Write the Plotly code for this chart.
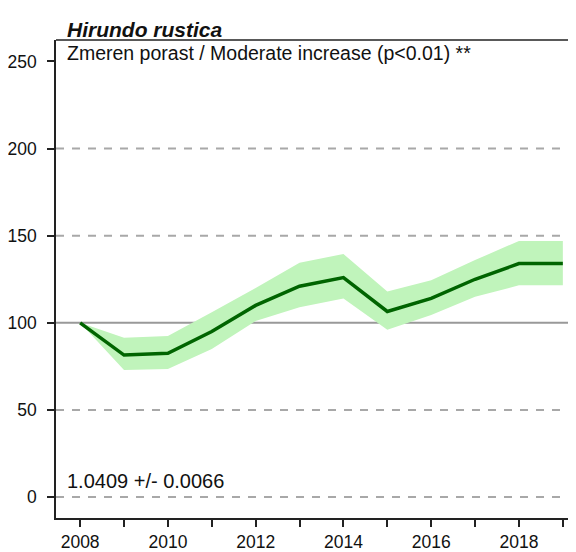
import plotly.graph_objects as go

years = [2008, 2009, 2010, 2011, 2012, 2013, 2014, 2015, 2016, 2017, 2018, 2019]
index = [100, 81.5, 82.5, 95, 110, 121, 126, 106.5, 114, 125, 134, 134]
upper = [100, 91.5, 92.5, 106, 120, 134.5, 139.5, 118, 124.5, 136, 147, 147]
lower = [100, 73, 73.5, 85, 101, 109, 114, 96, 104.5, 115, 121.5, 121.5]

species = "Hirundo rustica"
trend_text = "Zmeren porast / Moderate increase (p<0.01) **"
slope_text = "1.0409 +/- 0.0066"
x_tickvals = [2008, 2010, 2012, 2014, 2016, 2018]
y_tickvals = [0, 50, 100, 150, 200, 250]
dashed_levels = [0, 50, 150, 200]
baseline_level = 100

FONT = "Arial, 'Liberation Sans', sans-serif"
BAND = "#c0f4bb"

fig = go.Figure()

# confidence band
fig.add_trace(go.Scatter(x=years, y=upper, mode="lines", line=dict(width=0, color=BAND),
                         hoverinfo="skip", showlegend=False))
fig.add_trace(go.Scatter(x=years, y=lower, mode="lines", line=dict(width=0, color=BAND),
                         fill="tonexty", fillcolor=BAND, hoverinfo="skip", showlegend=False))

# main line
fig.add_trace(go.Scatter(x=years, y=index, mode="lines", line=dict(width=3.5, color="#006400"),
                         showlegend=False))

shapes = []
for lv in dashed_levels:
    shapes.append(dict(type="line", xref="paper", yref="y", x0=0, x1=1, y0=lv, y1=lv,
                       line=dict(color="#a8a8a8", width=2, dash="8px,8px"), layer="below"))
shapes.append(dict(type="line", xref="paper", yref="y", x0=0, x1=1, y0=baseline_level, y1=baseline_level,
                   line=dict(color="#999999", width=2), layer="below"))
# top border
shapes.append(dict(type="line", xref="paper", yref="paper", x0=0, x1=1, y0=1, y1=1,
                   line=dict(color="#222222", width=1.5)))

annotations = [
    dict(text="<b><i>" + species + "</i></b>", xref="paper", yref="paper", x=0, y=1.0,
         xanchor="left", yanchor="bottom", showarrow=False, xshift=9, yshift=-3,
         font=dict(family=FONT, size=21, color="#111111")),
    dict(text=trend_text, xref="paper", yref="paper", x=0, y=1.0,
         xanchor="left", yanchor="top", showarrow=False, xshift=9, yshift=0,
         font=dict(family=FONT, size=19.5, color="#111111")),
    dict(text=slope_text, xref="paper", yref="y", x=0, y=0,
         xanchor="left", yanchor="bottom", showarrow=False, xshift=9, yshift=3,
         font=dict(family=FONT, size=20, color="#111111")),
]

fig.update_layout(
    width=568, height=544,
    margin=dict(l=48, r=0, t=32, b=31),
    paper_bgcolor="white", plot_bgcolor="white",
    font=dict(family=FONT, size=18, color="#111111"),
    shapes=shapes, annotations=annotations,
    showlegend=False,
)
fig.update_xaxes(range=[2007.45, 2019.3], showgrid=False, zeroline=False,
                 showline=True, linecolor="#222222", linewidth=1.5,
                 tickmode="array", tickvals=years,
                 ticktext=[str(y) if y in x_tickvals else "" for y in years],
                 ticks="outside", ticklen=7, tickwidth=1.5, tickcolor="#222222",
                 tickfont=dict(family=FONT, size=17.5, color="#111111"))
fig.update_yaxes(range=[-12, 262.3], showgrid=False, zeroline=False,
                 showline=True, linecolor="#222222", linewidth=1.5,
                 tickmode="array", tickvals=y_tickvals,
                 ticks="outside", ticklen=7, tickwidth=1.5, tickcolor="#222222",
                 ticklabelstandoff=7,
                 tickfont=dict(family=FONT, size=17.5, color="#111111"))

fig.write_html("out.html")
